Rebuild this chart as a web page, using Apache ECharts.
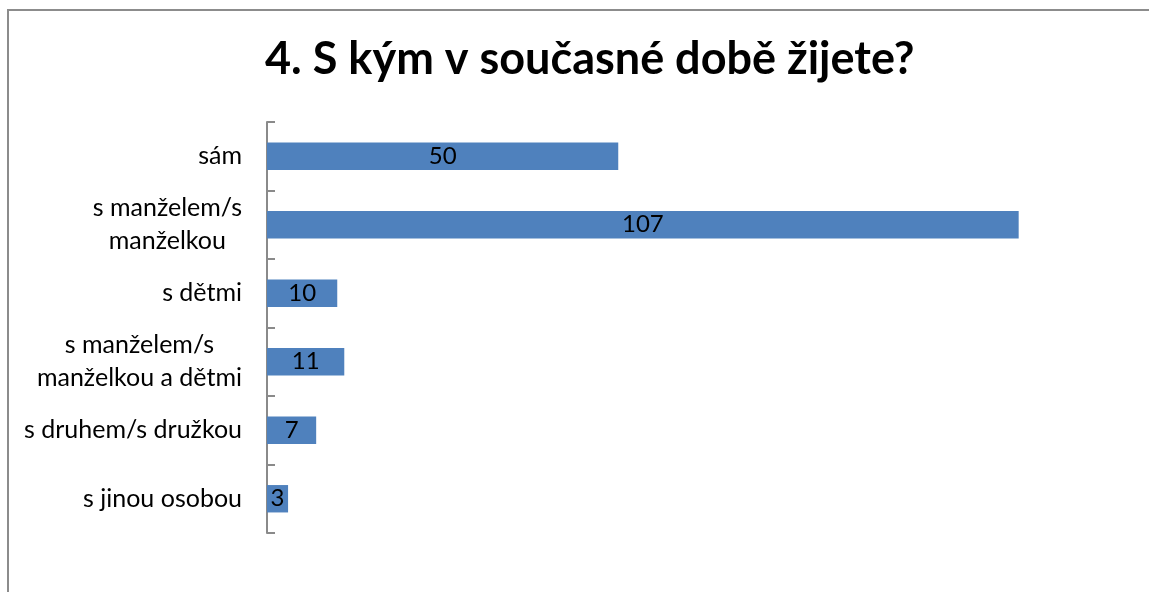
<!DOCTYPE html>
<html>
<head>
<meta charset="utf-8">
<script src="https://cdn.jsdelivr.net/npm/echarts@6/dist/echarts.min.js"></script>
<style>
  html, body { margin: 0; padding: 0; background: #fff; overflow: hidden; }
  #myChart { position: absolute; left: 0; top: 0; width: 1149px; height: 592px; }
</style>
</head>
<body>
<div id="myChart"></div>
<script>
// kategorie odshora dolu
const categories = ["sám", "s manželem/s\nmanželkou", "s dětmi", "s manželem/s\nmanželkou a dětmi", "s druhem/s družkou", "s jinou osobou"];
const values = [50, 107, 10, 11, 7, 3];
const titleText = "4. S kým v současné době žijete?";

const font = "Lato, 'Open Sans', sans-serif";
let myChart = echarts.init(document.getElementById("myChart"));
myChart.setOption({
  animation: false,
  // ramecek grafu (jen levy a horni okraj je videt)
  graphic: [
    {
      type: "polyline",
      shape: { points: [[8, 600], [8, 10], [1160, 10]] },
      style: { stroke: "#8c8c8c", lineWidth: 2, fill: null }
    }
  ],
  title: {
    text: titleText,
    left: 260,
    top: 32,
    textStyle: { fontFamily: font, fontSize: 45, fontWeight: "bold", color: "#000" }
  },
  grid: { left: 267, top: 122, width: 843, height: 411 },
  xAxis: {
    type: "value",
    min: 0,
    max: 120,
    show: false
  },
  yAxis: {
    type: "category",
    inverse: true,
    data: categories,
    axisLine: { show: true, lineStyle: { color: "#8a8a8a", width: 2 } },
    axisTick: { show: true, inside: true, length: 8, lineStyle: { color: "#8a8a8a", width: 2 } },
    axisLabel: {
      margin: 25,
      align: "right",
      // kazdy radek vycentrovany v bloku
      formatter: function (v) {
        return v.split("\n").map(function (s) { return "{c|" + s + "}"; }).join("\n");
      },
      rich: {
        c: { fontFamily: font, fontSize: 25, color: "#000", align: "center", lineHeight: 33 }
      }
    }
  },
  series: [
    {
      type: "bar",
      data: values,
      barCategoryGap: "60%",
      itemStyle: { color: "#4f81bd" },
      label: {
        show: true, position: "inside", color: "#000",
        fontFamily: font, fontSize: 24
      }
    }
  ]
});
</script>
</body>
</html>
